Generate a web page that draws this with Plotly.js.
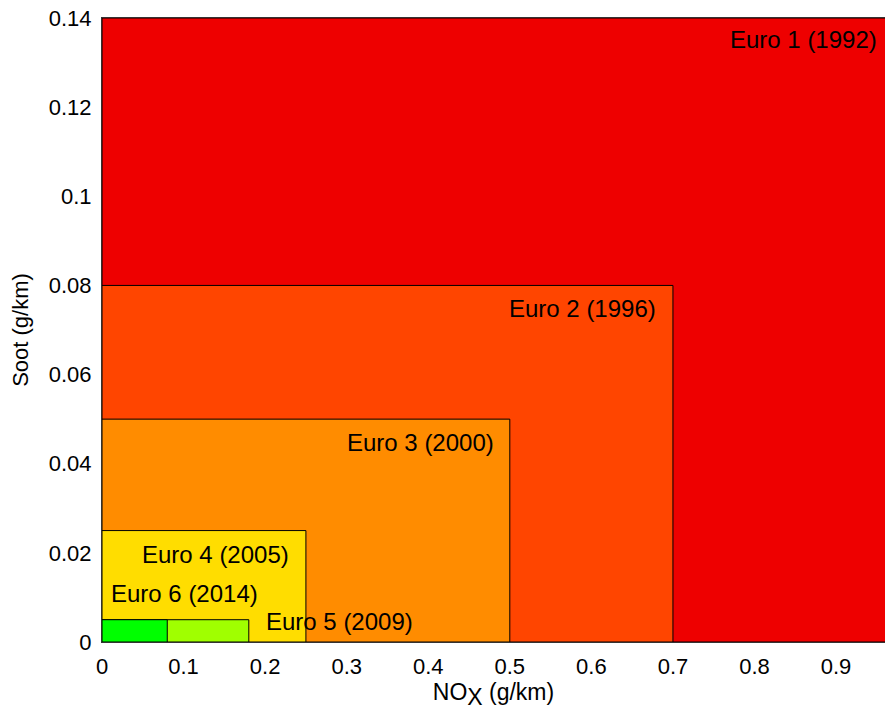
<!DOCTYPE html>
<html>
<head>
<meta charset="utf-8">
<script src="https://cdn.plot.ly/plotly-3.0.1.min.js"></script>
<style>html,body{margin:0;padding:0;background:#fff;}#chart{width:885px;height:716px;}</style>
</head>
<body>
<div id="chart"></div>
<script>
// Euro emission standards (diesel cars)
const standards = ["Euro 1 (1992)", "Euro 2 (1996)", "Euro 3 (2000)", "Euro 4 (2005)", "Euro 5 (2009)", "Euro 6 (2014)"];
const noxLimit  = [0.97, 0.70, 0.50, 0.25, 0.18, 0.08];
const sootLimit = [0.14, 0.08, 0.05, 0.025, 0.005, 0.005];
const colors    = ["#EE0000", "#FF4500", "#FF8C00", "#FFDD00", "#A0FF00", "#00FF00"];

// label anchor positions (data coords) and alignment
const labelX    = [0.950, 0.679, 0.481, 0.2296, 0.201, 0.0114];
const labelY    = [0.1352, 0.0748, 0.0448, 0.0196, 0.0047, 0.0109];
const labelAnch = ["right", "right", "right", "right", "left", "left"];

const xTicks = [0, 0.1, 0.2, 0.3, 0.4, 0.5, 0.6, 0.7, 0.8, 0.9];
const yTicks = [0, 0.02, 0.04, 0.06, 0.08, 0.1, 0.12, 0.14];

const FONT = "Liberation Sans, Arial, Helvetica, sans-serif";

const traces = standards.map((name, i) => ({
  type: "scatter",
  mode: "lines",
  x: [0, noxLimit[i], noxLimit[i], 0, 0],
  y: [0, 0, sootLimit[i], sootLimit[i], 0],
  fill: "toself",
  fillcolor: colors[i],
  line: {color: "#000", width: 1},
  name: name,
  hoverinfo: "name",
  showlegend: false
}));

const annotations = standards.map((name, i) => ({
  x: labelX[i], y: labelY[i], xref: "x", yref: "y",
  text: name, showarrow: false,
  xanchor: labelAnch[i], yanchor: "middle",
  xshift: labelAnch[i] === "right" ? 2 : -2,
  font: {family: FONT, size: 24, color: "#000"}
}));

const layout = {
  width: 885, height: 716,
  margin: {l: 102, r: 0, t: 18, b: 74},
  paper_bgcolor: "#fff", plot_bgcolor: "#fff",
  font: {family: FONT, size: 22, color: "#000"},
  showlegend: false,
  xaxis: {
    range: [0, 0.96], tickvals: xTicks, ticktext: xTicks.map(String),
    showgrid: false, zeroline: false,
    showline: true, mirror: true, linecolor: "#333", linewidth: 1,
    ticks: "", ticklabelstandoff: 5,
    tickfont: {family: FONT, size: 22},
    title: {text: "NO<sub><span style=\"font-size:23px\">X</span></sub> (g/km)", font: {family: FONT, size: 23}, standoff: 5}
  },
  yaxis: {
    range: [0, 0.14], tickvals: yTicks, ticktext: yTicks.map(String),
    showgrid: false, zeroline: false,
    showline: true, mirror: false, linecolor: "#333", linewidth: 1,
    ticks: "", ticklabelstandoff: 5,
    tickfont: {family: FONT, size: 22},
    title: {text: "Soot (g/km)", font: {family: FONT, size: 22}, standoff: 14}
  },
  annotations: annotations
};

Plotly.newPlot("chart", traces, layout, {displayModeBar: false, staticPlot: true});
</script>
</body>
</html>
